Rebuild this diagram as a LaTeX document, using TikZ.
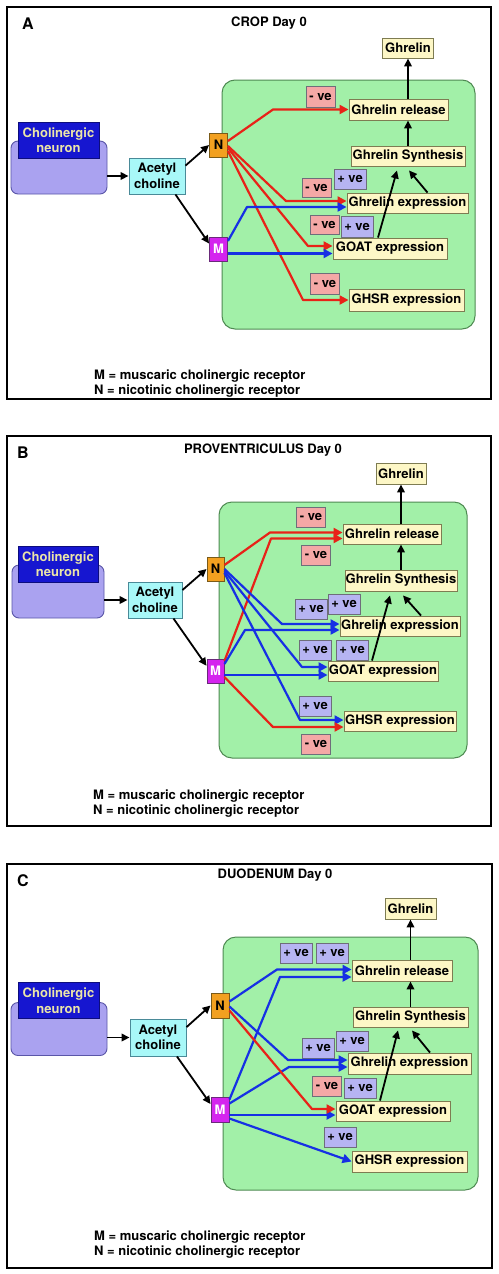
\documentclass[tikz,border=0pt]{standalone}
\usepackage{fontspec}
\setmainfont{TeX Gyre Heros}
\usetikzlibrary{arrows.meta,calc}
\definecolor{greenf}{HTML}{A2F0A8}
\definecolor{greend}{HTML}{4E8A52}
\definecolor{ybf}{HTML}{FDF7C6}
\definecolor{ybd}{HTML}{7E7C52}
\definecolor{negf}{HTML}{F4A8A6}
\definecolor{posf}{HTML}{B6B4F2}
\definecolor{labd}{HTML}{6E6E7A}
\definecolor{neuf}{HTML}{1616D0}
\definecolor{neut}{HTML}{ECE6A8}
\definecolor{purf}{HTML}{AAA2F0}
\definecolor{purd}{HTML}{5A56A8}
\definecolor{acef}{HTML}{A8F8F8}
\definecolor{aced}{HTML}{4A8A98}
\definecolor{nf}{HTML}{F2A020}
\definecolor{nd}{HTML}{7A5A18}
\definecolor{mf}{HTML}{D424EE}
\definecolor{md}{HTML}{6A2A7A}
\definecolor{arred}{HTML}{E82218}
\definecolor{arblue}{HTML}{1630E4}
\newcommand{\mybf}{\fontsize{13}{15.5}\selectfont\bfseries}
\tikzset{
  txt/.style={font=\mybf, inner sep=0pt, line width=0.9pt},
  yb/.style={txt, draw=ybd, fill=ybf},
  negbox/.style={txt, draw=labd, fill=negf, minimum width=29pt, minimum height=20pt},
  posbox/.style={txt, draw=labd, fill=posf, minimum width=32pt, minimum height=20pt},
  neubox/.style={txt, draw=neuf!60!black, fill=neuf, text=neut, align=center, minimum width=81pt, minimum height=36pt},
  purbox/.style={draw=purd, fill=purf, line width=0.9pt, rounded corners=7pt, minimum width=96pt, minimum height=53pt, inner sep=0pt},
  acebox/.style={txt, draw=aced, fill=acef, align=center, minimum width=56pt, minimum height=36pt},
  nbox/.style={txt, draw=nd, fill=nf, minimum width=18pt, minimum height=24pt},
  mbox/.style={txt, draw=md, fill=mf, text=white, minimum width=18pt, minimum height=24pt},
  greenbox/.style={draw=greend, fill=greenf, line width=1pt, rounded corners=13pt},
  outerframe/.style={draw=black, line width=2pt},
  paneltitle/.style={font=\mybf, inner sep=0pt},
  panelletter/.style={font=\fontsize{16}{18}\selectfont\bfseries, inner sep=0pt},
  legend/.style={font=\mybf, inner sep=0pt, anchor=west},
  rarr/.style={draw=arred, line width=2.2pt, line join=round, -{Triangle[length=9pt,width=9pt]}},
  barr/.style={draw=arblue, line width=2.2pt, line join=round, -{Triangle[length=9pt,width=9pt]}},
  karr/.style={draw=black, line width=1.8pt, -{Triangle[length=8pt,width=7.5pt]}},
}
\begin{document}
\begin{tikzpicture}[x=1pt,y=-1pt]
\useasboundingbox (0,0) rectangle (498,1274);
\fill[white] (0,0) rectangle (498,1274);

%%%%%%%%%%%%%%%%%%%% PANEL A %%%%%%%%%%%%%%%%%%%%
\draw[outerframe] (7,7) rectangle (491,399);
\node[panelletter] (letA) at (28,24) {A};
\node[paneltitle] (titA) at (269,23) {CROP Day 0};
\draw[greenbox] (222,80) rectangle (475,329);
\node[yb, minimum width=51pt, minimum height=20pt] (ghrA) at (408,48) {Ghrelin};
\node[yb, minimum width=99pt, minimum height=21pt] (relA) at (398.5,109.5) {Ghrelin release};
\node[yb, minimum width=114pt, minimum height=20pt] (synA) at (408,156) {Ghrelin Synthesis};
\node[yb, minimum width=121pt, minimum height=20pt] (expA) at (407.5,203) {Ghrelin expression};
\node[yb, minimum width=114pt, minimum height=21pt] (goatA) at (390,248.5) {GOAT expression};
\node[yb, minimum width=115pt, minimum height=22pt] (ghsrA) at (406.5,300) {GHSR expression};
\node[purbox] (cholA) at (59,167.5) {};
\node[neubox] (neuA) at (58.5,140) {Cholinergic\\neuron};
\node[acebox] (acetA) at (157,176) {Acetyl\\choline};
\node[nbox] (nA) at (218.5,145) {N};
\node[mbox] (mA) at (218.5,249) {M};
\node[negbox, minimum height=21pt] (lA1) at (320.5,96.5) {- ve};
\node[negbox, minimum height=19pt] (lA2) at (316.5,187.5) {- ve};
\node[posbox] (lA3) at (350,179) {+ ve};
\node[negbox, minimum height=19pt] (lA4) at (324.5,224.5) {- ve};
\node[posbox, minimum height=21pt] (lA5) at (357,226.5) {+ ve};
\node[negbox, minimum height=21pt] (lA6) at (325,283.5) {- ve};
\node[legend] (legA1) at (94,376) {M = muscaric cholinergic receptor};
\node[legend] (legA2) at (94,391) {N = nicotinic cholinergic receptor};
\coordinate (tA1) at (relA.west);
\coordinate (tA2) at ($(expA.west)+(0,-2)$);
\coordinate (tA3) at ($(expA.west)+(0,4)$);
\coordinate (tA4) at ($(goatA.west)+(0,-2.5)$);
\coordinate (tA5) at ($(goatA.west)+(0,5)$);
\coordinate (tA6) at (ghsrA.west);
\draw[karr] (cholA.east |- acetA.west) -- (acetA.west);
\draw[karr] (acetA.20) -- (nA.west);
\draw[karr] (acetA.-45) -- (mA.150);
\draw[rarr] ($(nA.east)+(0,-4)$) -- (273,0 |- tA1) -- (tA1);
\draw[rarr] ($(nA.east)+(0,1)$) -- (286,0 |- tA2) -- (tA2);
\draw[rarr] ($(nA.east)+(0,3)$) -- (308,0 |- tA4) -- (tA4);
\draw[rarr] ($(nA.east)+(0,6)$) -- (303,0 |- tA6) -- (tA6);
\draw[barr] ($(mA.east)+(0,-8)$) -- (247,0 |- tA3) -- (tA3);
\draw[barr] (mA.east |- tA5) -- (tA5);
\draw[karr] (synA.north) -- (synA.north |- relA.south);
\draw[karr] (ghrA.south |- relA.north) -- (ghrA.south);
\draw[karr] ($(expA.north)+(20,0)$) -- ($(synA.south)+(1,4)$);
\draw[karr] ($(goatA.north)+(-12,0)$) -- ($(synA.south)+(-11,4)$);

%%%%%%%%%%%%%%%%%%%% PANEL B %%%%%%%%%%%%%%%%%%%%
\draw[outerframe] (7,436) rectangle (491,826);
\node[panelletter] (letB) at (23,453) {B};
\node[paneltitle] (titB) at (263,450) {PROVENTRICULUS Day 0};
\draw[greenbox] (219,502) rectangle (467,758);
\node[yb, minimum width=50pt, minimum height=21pt] (ghrB) at (401,473.5) {Ghrelin};
\node[yb, minimum width=98pt, minimum height=20pt] (relB) at (392,534) {Ghrelin release};
\node[yb, minimum width=112pt, minimum height=21pt] (synB) at (401,580.5) {Ghrelin Synthesis};
\node[yb, minimum width=120pt, minimum height=20pt] (expB) at (400,626) {Ghrelin expression};
\node[yb, minimum width=110pt, minimum height=20pt] (goatB) at (383,671) {GOAT expression};
\node[yb, minimum width=112pt, minimum height=20pt] (ghsrB) at (400,721) {GHSR expression};
\node[purbox, minimum width=92pt] (cholB) at (58,591.5) {};
\node[neubox, minimum width=80pt] (neuB) at (58,564) {Cholinergic\\neuron};
\node[acebox, minimum width=54pt] (acetB) at (155,600) {Acetyl\\choline};
\node[nbox, minimum width=17pt] (nB) at (215.5,569) {N};
\node[mbox, minimum width=17pt] (mB) at (215.5,671) {M};
\node[negbox] (lB1) at (311,517) {- ve};
\node[negbox] (lB2) at (316,555) {- ve};
\node[posbox] (lB3) at (311,609) {+ ve};
\node[posbox] (lB4) at (344,604) {+ ve};
\node[posbox] (lB5) at (315,650) {+ ve};
\node[posbox] (lB6) at (352,650) {+ ve};
\node[posbox] (lB7) at (315,706) {+ ve};
\node[negbox] (lB8) at (316,744) {- ve};
\node[legend] (legB1) at (93,796) {M = muscaric cholinergic receptor};
\node[legend] (legB2) at (93,811) {N = nicotinic cholinergic receptor};
\coordinate (tB1) at ($(relB.west)+(0,-1.5)$);
\coordinate (tB2) at ($(relB.west)+(0,4.5)$);
\coordinate (tB3) at ($(expB.west)+(0,-2)$);
\coordinate (tB4) at ($(expB.west)+(0,4)$);
\coordinate (tB5) at ($(goatB.west)+(0,-4)$);
\coordinate (tB6) at ($(goatB.west)+(0,4)$);
\coordinate (tB7) at ($(ghsrB.west)+(0,-1)$);
\coordinate (tB8) at ($(ghsrB.west)+(0,6)$);
\draw[karr] (cholB.east |- acetB.west) -- (acetB.west);
\draw[karr] (acetB.20) -- (nB.west);
\draw[karr] (acetB.-45) -- (mB.150);
\draw[rarr] ($(nB.east)+(0,-4)$) -- (270,0 |- tB1) -- (tB1);
\draw[rarr] ($(mB.east)+(0,-10)$) -- (271,0 |- tB2) -- (tB2);
\draw[barr] (nB.east) -- (282,0 |- tB3) -- (tB3);
\draw[barr] ($(mB.east)+(0,-7)$) -- (245,0 |- tB4) -- (tB4);
\draw[barr] ($(nB.east)+(0,2)$) -- (302,0 |- tB5) -- (tB5);
\draw[barr] (mB.east |- tB6) -- (tB6);
\draw[barr] ($(nB.east)+(0,4)$) -- (300,0 |- tB7) -- (tB7);
\draw[rarr] ($(mB.east)+(0,6)$) -- (273,0 |- tB8) -- (tB8);
\draw[karr] (synB.north) -- (synB.north |- relB.south);
\draw[karr] (ghrB.south |- relB.north) -- (ghrB.south);
\draw[karr] ($(expB.north)+(21,0)$) -- ($(synB.south)+(2,4)$);
\draw[karr] ($(goatB.north)+(-11,0)$) -- ($(synB.south)+(-11,4)$);

%%%%%%%%%%%%%%%%%%%% PANEL C %%%%%%%%%%%%%%%%%%%%
\draw[outerframe] (7,864) rectangle (492,1268);
\node[panelletter] (letC) at (23,881) {C};
\node[paneltitle] (titC) at (275,875) {DUODENUM Day 0};
\draw[greenbox] (223,937) rectangle (478,1190);
\node[yb, minimum width=51pt, minimum height=21pt] (ghrC) at (410.5,908.5) {Ghrelin};
\node[yb, minimum width=100pt, minimum height=21pt] (relC) at (402,970.5) {Ghrelin release};
\node[yb, minimum width=115pt, minimum height=20pt] (synC) at (410.5,1017) {Ghrelin Synthesis};
\node[yb, minimum width=123pt, minimum height=21pt] (expC) at (409.5,1063.5) {Ghrelin expression};
\node[yb, minimum width=114pt, minimum height=20pt] (goatC) at (393,1111) {GOAT expression};
\node[yb, minimum width=115pt, minimum height=21pt] (ghsrC) at (409.5,1161.5) {GHSR expression};
\node[purbox] (cholC) at (59,1029) {};
\node[neubox] (neuC) at (58.5,1000.5) {Cholinergic\\neuron};
\node[acebox, minimum height=37pt] (acetC) at (158,1037.5) {Acetyl\\choline};
\node[nbox, minimum height=25pt] (nC) at (220,1005.5) {N};
\node[mbox, minimum height=25pt] (mC) at (220,1109.5) {M};
\node[posbox] (lC1) at (296,953) {+ ve};
\node[posbox] (lC2) at (332,953) {+ ve};
\node[posbox] (lC3) at (318,1048) {+ ve};
\node[posbox] (lC4) at (352,1041) {+ ve};
\node[negbox] (lC5) at (327,1086) {- ve};
\node[posbox] (lC6) at (360,1088) {+ ve};
\node[posbox] (lC7) at (340,1137) {+ ve};
\node[legend] (legC1) at (94,1237) {M = muscaric cholinergic receptor};
\node[legend] (legC2) at (94,1252) {N = nicotinic cholinergic receptor};
\coordinate (tC1) at ($(relC.west)+(0,-1)$);
\coordinate (tC2) at ($(relC.west)+(0,6.5)$);
\coordinate (tC3) at ($(expC.west)+(0,-3.5)$);
\coordinate (tC4) at ($(expC.west)+(0,3.5)$);
\coordinate (tC5) at ($(goatC.west)+(0,-2)$);
\coordinate (tC6) at ($(goatC.west)+(0,4)$);
\coordinate (tC7) at (ghsrC.west);
\draw[karr] (cholC.east |- acetC.west) -- (acetC.west);
\draw[karr] (acetC.20) -- (nC.west);
\draw[karr] (acetC.-45) -- (mC.150);
\draw[barr] ($(nC.east)+(0,-4)$) -- (277,0 |- tC1) -- (tC1);
\draw[barr] ($(mC.east)+(0,-10)$) -- (280,0 |- tC2) -- (tC2);
\draw[barr] ($(nC.east)+(0,1)$) -- (288,0 |- tC3) -- (tC3);
\draw[barr] ($(mC.east)+(0,-6)$) -- (289,0 |- tC4) -- (tC4);
\draw[barr] (mC.east |- tC6) -- (tC6);
\draw[barr] ($(mC.east)+(0,9)$) -- (tC7);
\draw[rarr] ($(nC.east)+(0,5)$) -- (312,0 |- tC5) -- (tC5);
\draw[karr] (synC.north) -- (synC.north |- relC.south);
\draw[karr] (ghrC.south |- relC.north) -- (ghrC.south);
\draw[karr] ($(expC.north)+(20.5,0)$) -- ($(synC.south)+(1.5,3)$);
\draw[karr] ($(goatC.north)+(-13,0)$) -- ($(synC.south)+(-12.5,3)$);
\end{tikzpicture}
\end{document}
